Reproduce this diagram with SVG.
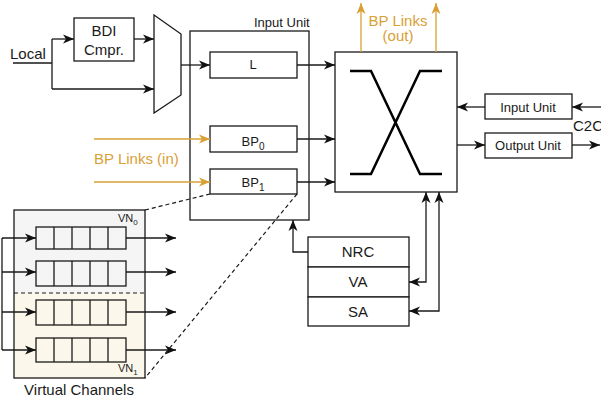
<svg xmlns="http://www.w3.org/2000/svg" width="601" height="399" viewBox="0 0 601 399">
<defs>
<marker id="ah" markerUnits="userSpaceOnUse" markerWidth="12" markerHeight="10" viewBox="0 0 12 10" refX="11" refY="5" orient="auto">
<path d="M0,0.5 L11,5 L0,9.5 L3,5 z" fill="#111"/>
</marker>
<marker id="ahs" markerUnits="userSpaceOnUse" markerWidth="12" markerHeight="10" viewBox="0 0 12 10" refX="1" refY="5" orient="auto">
<path d="M12,0.5 L1,5 L12,9.5 L9,5 z" fill="#111"/>
</marker>
<marker id="aho" markerUnits="userSpaceOnUse" markerWidth="12" markerHeight="10" viewBox="0 0 12 10" refX="11" refY="5" orient="auto">
<path d="M0,0.5 L11,5 L0,9.5 L3,5 z" fill="#d9a035"/>
</marker>
</defs>
<style>
text{font-family:"Liberation Sans",Arial,sans-serif;fill:#1a1a1a}
.b{fill:#fff;stroke:#1a1a1a;stroke-width:1.3}
.l{fill:none;stroke:#1a1a1a;stroke-width:1.3}
.a{marker-end:url(#ah)}
.o{fill:none;stroke:#d9a035;stroke-width:1.3;marker-end:url(#aho)}
.ot{fill:#d9a035}
.d{fill:none;stroke:#1a1a1a;stroke-width:1.2;stroke-dasharray:4,3}
.x{fill:none;stroke:#000;stroke-width:2.5}
.c{text-anchor:middle}
.q{stroke:#1a1a1a;stroke-width:1.3}
</style>

<g id="local"><text x="10" y="59" font-size="15">Local</text></g>
<g id="bdi"><rect class="b" x="74" y="18" width="60" height="43"/><text class="c" x="104" y="36" font-size="15">BDI</text><text class="c" x="104" y="55" font-size="15">Cmpr.</text></g>
<g id="mux"><polygon class="b" points="154,15 181,34 181,95 154,113"/></g>
<g id="input-unit"><rect class="b" x="190" y="31" width="119" height="189"/><text x="254" y="27" font-size="13">Input Unit</text></g>
<g id="L"><rect class="b" x="210" y="52" width="87" height="26"/><text class="c" x="253" y="69" font-size="13">L</text></g>
<g id="BP0"><rect class="b" x="210" y="126" width="87" height="26"/><text class="c" x="253" y="146" font-size="13">BP<tspan font-size="10" dy="4">0</tspan></text></g>
<g id="BP1"><rect class="b" x="210" y="169" width="87" height="25"/><text class="c" x="253" y="187" font-size="13">BP<tspan font-size="10" dy="4">1</tspan></text></g>
<g id="bp-in-label"><text class="ot" x="94" y="164" font-size="15">BP Links (in)</text></g>
<g id="bp-out-label"><text class="ot c" x="398" y="26" font-size="15">BP Links</text><text class="ot c" x="398" y="41" font-size="15">(out)</text></g>
<g id="crossbar"><rect class="b" x="335" y="52" width="122" height="140"/>
<path class="x" d="M350,71 H371 L420,174 H442 M350,174 H371 L420,71 H442"/></g>
<g id="c2c-in"><rect class="b" x="485" y="94" width="87" height="25"/><text class="c" x="528" y="112" font-size="13">Input Unit</text></g>
<g id="c2c-out"><rect class="b" x="485" y="133" width="87" height="25"/><text class="c" x="528" y="150" font-size="13">Output Unit</text></g>
<g id="c2c-label"><text x="573" y="131" font-size="15">C2C</text></g>
<g id="alloc"><rect class="b" x="308" y="237" width="101" height="30"/><text class="c" x="358" y="257" font-size="15">NRC</text>
<rect class="b" x="308" y="267" width="101" height="30"/><text class="c" x="358" y="287" font-size="15">VA</text>
<rect class="b" x="308" y="297" width="101" height="29"/><text class="c" x="358" y="317" font-size="15">SA</text></g>
<g id="vcs">
<rect x="14" y="210" width="131" height="83" fill="#f5f5f5"/>
<rect x="14" y="293" width="131" height="85" fill="#fbf8eb"/>
<rect x="14" y="210" width="131" height="168" fill="none" stroke="#1a1a1a" stroke-width="1.3"/>
<line class="d" x1="14" y1="293" x2="145" y2="293"/>
<g fill="#f5f5f5" class="q">
<rect x="36" y="227" width="90" height="22"/><rect x="36" y="261" width="90" height="25"/>
</g>
<g fill="#fbf8eb" class="q">
<rect x="36" y="300" width="90" height="25"/><rect x="36" y="338" width="90" height="24"/>
</g>
<path class="l" d="M54,227V249M72,227V249M90,227V249M108,227V249M54,261V286M72,261V286M90,261V286M108,261V286M54,300V325M72,300V325M90,300V325M108,300V325M54,338V362M72,338V362M90,338V362M108,338V362"/>
<text x="118" y="222" font-size="11">VN<tspan font-size="8" dy="3">0</tspan></text>
<text x="118" y="372" font-size="11">VN<tspan font-size="8" dy="3">1</tspan></text>
<text class="c" x="79" y="395" font-size="15">Virtual Channels</text>
</g>
<g id="connectors">
<path class="l" d="M13,63 H52 M52,39 V89"/>
<path class="l a" d="M52,39 H74"/>
<path class="l a" d="M52,89 H154"/>
<path class="l a" d="M134,39 H154"/>
<path class="l a" d="M181,65 H210"/>
<path class="l a" d="M297,65 H335"/>
<path class="l a" d="M297,139 H335"/>
<path class="l a" d="M297,182 H335"/>
<path class="o" d="M94,139 H210"/>
<path class="o" d="M94,182 H210"/>
<path class="o" d="M361,52 V3"/>
<path class="o" d="M436,52 V3"/>
<path class="l a" d="M601,107 H572"/>
<path class="l a" d="M485,107 H457"/>
<path class="l a" d="M457,145 H485"/>
<path class="l a" d="M572,145 H600"/>
<path class="l a" d="M308,252 H293 V220"/>
<path class="l a" d="M409,282 H426 V192" marker-start="url(#ahs)"/>
<path class="l a" d="M409,311 H439 V192" marker-start="url(#ahs)"/>
<path class="l" d="M2,238 V350"/>
<path class="l a" d="M2,238 H36"/>
<path class="l a" d="M2,272 H36"/>
<path class="l a" d="M2,312 H36"/>
<path class="l a" d="M2,350 H36"/>
<path class="l a" d="M126,238 H176"/>
<path class="l a" d="M126,272 H176"/>
<path class="l a" d="M126,312 H176"/>
<path class="l a" d="M126,350 H176"/>
<path class="d" d="M145,210 L210,194"/>
<path class="d" d="M297,194 L145,378"/>
</g>
</svg>
